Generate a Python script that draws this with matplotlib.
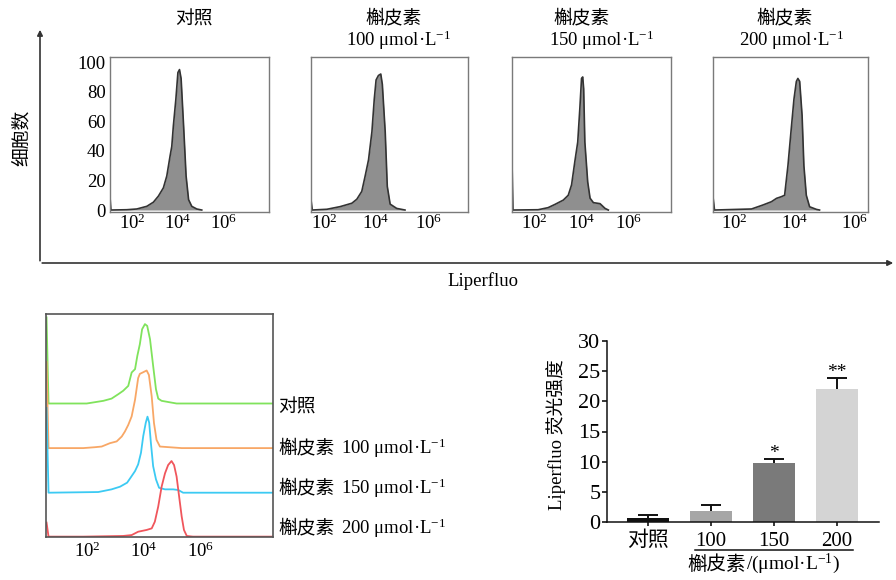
import numpy as np
import matplotlib
matplotlib.use("Agg")
import matplotlib.pyplot as plt
from matplotlib.patches import FancyArrowPatch
from matplotlib.lines import Line2D
from matplotlib.ticker import NullLocator

plt.rcParams['font.family'] = ['Liberation Serif', 'Noto Sans CJK SC']
plt.rcParams['mathtext.fontset'] = 'custom'
plt.rcParams['mathtext.rm'] = 'Liberation Serif'
plt.rcParams['mathtext.it'] = 'Liberation Serif:italic'
plt.rcParams['mathtext.bf'] = 'Liberation Serif:bold'
plt.rcParams['mathtext.default'] = 'rm'

# ---------------- data ----------------
# top histograms: x = log10(Liperfluo fluorescence), y = cell count
top_titles_cn = ["对照", "槲皮素", "槲皮素", "槲皮素"]
top_titles_conc = ["", "100 μmol·L$^{-1}$", "150 μmol·L$^{-1}$", "200 μmol·L$^{-1}$"]

h1_x = [1.00, 1.04, 1.74, 2.18, 2.62, 2.91, 3.13, 3.35, 3.50, 3.65, 3.72, 3.79, 3.90, 3.99, 4.06, 4.13, 4.24, 4.35, 4.46, 4.60, 4.82, 5.04]
h1_y = [9, 0, 0.2, 0.7, 2.5, 5.3, 9.4, 15, 23, 37, 43, 57, 75, 93, 95, 89, 57, 23, 7, 2.5, 0.7, 0]

h2_x = [1.50, 1.55, 2.11, 2.62, 3.07, 3.26, 3.45, 3.58, 3.71, 3.84, 3.93, 4.00, 4.09, 4.18, 4.24, 4.35, 4.43, 4.54, 4.79, 5.11]
h2_y = [7, 0, 0.5, 2.3, 4.6, 7.3, 12.6, 23, 34, 53, 75, 88, 91, 92, 85, 53, 16, 4, 1.1, 0]

h3_x = [1.07, 1.11, 2.17, 2.59, 2.88, 3.23, 3.44, 3.58, 3.72, 3.84, 3.93, 4.00, 4.05, 4.09, 4.14, 4.26, 4.36, 4.50, 4.78, 4.99, 5.13]
h3_y = [33, 0, 0.2, 1.6, 3.8, 6.7, 10, 17, 33, 46, 69, 89, 90, 82, 46, 19, 8, 5, 4.3, 1.1, 0]

h4_x = [1.28, 1.33, 2.56, 2.94, 3.22, 3.39, 3.55, 3.66, 3.77, 3.88, 3.97, 4.05, 4.10, 4.16, 4.24, 4.30, 4.38, 4.49, 4.72, 4.82]
h4_y = [9, 0, 0.7, 3.4, 5.6, 7.9, 9, 10, 30, 55, 75, 87, 89, 87, 64, 30, 10, 2.2, 0.4, 0]

# overlay histograms (relative counts)
ov_labels_cn = ["对照", "槲皮素", "槲皮素", "槲皮素"]
ov_labels_conc = ["", "100 μmol·L$^{-1}$", "150 μmol·L$^{-1}$", "200 μmol·L$^{-1}$"]

g_x = [0.55, 0.62, 1.97, 2.56, 2.85, 3.09, 3.26, 3.44, 3.56, 3.68, 3.76, 3.85, 3.93, 4.03, 4.11, 4.21, 4.32, 4.42, 4.50, 4.62, 4.97, 5.15, 8.57]
g_y = [38.6, 0, 0, 1.2, 2.2, 4.2, 5.7, 7.9, 13.9, 15.4, 21.3, 26.6, 33.3, 35.6, 34.8, 28.8, 16.9, 6.4, 2.2, 1.2, 0.4, 0, 0]

o_x = [0.55, 0.62, 1.85, 2.26, 2.50, 2.79, 3.03, 3.21, 3.32, 3.44, 3.56, 3.68, 3.79, 3.85, 3.95, 4.09, 4.17, 4.27, 4.35, 4.44, 4.56, 5.33, 8.57]
o_y = [38.6, 0, 0, 0.4, 0.7, 2.2, 3.0, 5.2, 7.4, 10.4, 14.2, 21.7, 31.4, 33.3, 33.9, 34.8, 32.8, 23.1, 11.2, 3.7, 0.7, 0, 0]

c_x = [0.55, 0.62, 2.38, 2.85, 3.15, 3.40, 3.52, 3.68, 3.79, 3.89, 3.97, 4.06, 4.12, 4.18, 4.24, 4.32, 4.42, 4.53, 4.74, 5.03, 5.21, 5.38, 8.57]
c_y = [38, 0, 0.3, 1.5, 2.7, 4.5, 6.7, 9.7, 12.7, 17.9, 25.4, 31.4, 34.1, 31.4, 22.4, 11.9, 6.0, 2.2, 1.5, 1.5, 1.2, 0, 0]

r_x = [0.55, 0.62, 1.85, 3.26, 3.56, 3.79, 4.09, 4.27, 4.38, 4.50, 4.62, 4.74, 4.85, 4.97, 5.06, 5.15, 5.24, 5.33, 5.41, 5.51, 5.73, 8.57]
r_y = [6.3, 0, 0, 0.3, 0.7, 2.2, 3.0, 3.7, 6.7, 13.5, 22.4, 28.4, 32.1, 33.9, 32.1, 26.9, 17.9, 9.0, 3.0, 0.3, 0, 0]

# bar chart
bar_groups = ["对照", "100", "150", "200"]
bar_means = [0.7, 1.9, 9.8, 22.0]
bar_errs = [0.5, 0.85, 0.6, 1.8]
bar_sig = ["", "", "*", "**"]

tick_vals = [1e2, 1e4, 1e6]
tick_labels = ["$10^2$", "$10^4$", "$10^6$"]

# ---------------- layout helpers ----------------
W, H = 896, 580
fig = plt.figure(figsize=(W / 100, H / 100), dpi=100)


def box(l, t, r, b):
    return [l / W, 1 - b / H, (r - l) / W, (b - t) / H]


def fp(x, y):
    return (x / W, 1 - y / H)


FS = 13.5
CJK = ['Noto Sans CJK SC']
LAT = 'Liberation Serif'

# ---------------- top row ----------------
top_data = [(h1_x, h1_y), (h2_x, h2_y), (h3_x, h3_y), (h4_x, h4_y)]
top_boxes = [(110, 57, 269, 211.5), (311, 57, 468, 211.5), (512, 57, 671, 211.5), (713, 57, 868, 211.5)]
top_lims = [(1.0, 8.0), (1.5, 7.53), (1.07, 7.77), (1.28, 6.43)]
title_cn_pos = [(194, 19), (394, 18), (582, 18), (785, 18)]
title_conc_pos = [None, (399, 40), (602, 40), (792, 40)]

for i, ((hx, hy), bx, lim) in enumerate(zip(top_data, top_boxes, top_lims)):
    ax = fig.add_axes(box(*bx))
    xs = 10 ** np.asarray(hx)
    ax.fill_between(xs, hy, 0, color='#8f8f8f', lw=0)
    ax.plot(xs, hy, color='#333333', lw=1.2)
    ax.set_xscale('log')
    ax.set_xlim(10 ** lim[0], 10 ** lim[1])
    ax.set_ylim(-1, 103.5)
    ax.set_xticks(tick_vals)
    ax.set_xticklabels(tick_labels)
    ax.xaxis.set_minor_locator(NullLocator())
    if i == 0:
        ax.set_yticks([0, 20, 40, 60, 80, 100])
    else:
        ax.set_yticks([])
    ax.tick_params(length=0, labelsize=FS)
    ax.tick_params(axis='x', pad=1.5)
    ax.tick_params(axis='y', pad=3)
    for s in ax.spines.values():
        s.set_color('#7a7a7a')
        s.set_linewidth(1.0)
    tx, ty = title_cn_pos[i]
    fig.text(*fp(tx, ty), top_titles_cn[i], family=CJK, fontsize=FS, ha='center', va='center')
    if title_conc_pos[i] is not None:
        cx, cy = title_conc_pos[i]
        fig.text(*fp(cx, cy), top_titles_conc[i], family=LAT, fontsize=FS, ha='center', va='center')

# big frame arrows
fig.add_artist(FancyArrowPatch(fp(40, 263.5), fp(40, 27), transform=fig.transFigure,
                               arrowstyle='-|>', mutation_scale=8, lw=1.2, color='#333333'))
fig.add_artist(FancyArrowPatch(fp(39.4, 263), fp(896, 263), transform=fig.transFigure,
                               arrowstyle='-|>', mutation_scale=8, lw=1.2, color='#333333'))
fig.text(*fp(21, 138), "细胞数", family=CJK, fontsize=FS, rotation=90, ha='center', va='center')
fig.text(*fp(482.5, 281), "Liperfluo", family=LAT, fontsize=FS, ha='center', va='center')

# ---------------- overlay panel ----------------
ax2 = fig.add_axes(box(45.7, 314.3, 273.3, 537.3))
ov_data = [(g_x, g_y), (o_x, o_y), (c_x, c_y), (r_x, r_y)]
ov_colors = ['#80e35c', '#f8a766', '#3ccaf3', '#f0565c']
ov_offsets = [60, 40, 20, 0.3]
for (ox, oy), col, off in zip(ov_data, ov_colors, ov_offsets):
    ax2.plot(10 ** np.asarray(ox), np.asarray(oy) + off, color=col, lw=1.3)
ax2.set_xscale('log')
ax2.set_xlim(10 ** 0.52, 10 ** 8.57)
ax2.set_ylim(0, 100)
ax2.set_xticks(tick_vals)
ax2.set_xticklabels(tick_labels)
ax2.xaxis.set_minor_locator(NullLocator())
ax2.set_yticks([])
ax2.tick_params(length=0, labelsize=FS, pad=3)
for s in ax2.spines.values():
    s.set_color('#555555')
    s.set_linewidth(1.2)

ov_text_y = [407.5, 448, 488, 528]
for cn, conc, y in zip(ov_labels_cn, ov_labels_conc, ov_text_y):
    fig.text(*fp(278, y), cn, family=CJK, fontsize=FS, ha='left', va='center')
    if conc:
        fig.text(*fp(341, y), conc, family=LAT, fontsize=FS, ha='left', va='center')

# ---------------- bar chart ----------------
ax3 = fig.add_axes(box(606.7, 341, 879.3, 522))
xpos = np.arange(len(bar_groups))
bar_colors = ['#111111', '#a6a6a6', '#7a7a7a', '#d4d4d4']
ax3.bar(xpos, bar_means, width=0.66, color=bar_colors, zorder=2)
ax3.errorbar(xpos, bar_means, yerr=bar_errs, fmt='none',
             ecolor='#111111', elinewidth=1.4, capsize=7.5, capthick=1.4, zorder=1)
for xi, m, e, s in zip(xpos, bar_means, bar_errs, bar_sig):
    if s:
        ax3.annotate(s, (xi, m + e), xytext=(0, -2), textcoords='offset points',
                     ha='center', va='bottom', fontsize=14, family=LAT)
ax3.set_xlim(-0.656, 3.67)
ax3.set_ylim(0, 30)
ax3.set_yticks(np.arange(0, 31, 5))
ax3.set_xticks(xpos)
ax3.set_xticklabels(bar_groups)
ax3.spines['top'].set_visible(False)
ax3.spines['right'].set_visible(False)
for s in ('left', 'bottom'):
    ax3.spines[s].set_linewidth(1.1)
    ax3.spines[s].set_color('#111111')
    ax3.spines[s].set_zorder(3)
ax3.tick_params(axis='y', length=3.5, width=1.1, labelsize=16, pad=1)
ax3.tick_params(axis='x', length=3, width=1.1, labelsize=15, pad=4)

fig.text(*fp(556, 435), "Liperfluo 荧光强度", fontsize=FS, rotation=90, ha='center', va='center')
fig.add_artist(Line2D([695 / W, 853 / W], [1 - 550 / H, 1 - 550 / H], transform=fig.transFigure,
                      color='#111111', lw=1.1))
fig.text(*fp(746, 564), "槲皮素", family=CJK, fontsize=14, ha='right', va='center')
fig.text(*fp(746, 564), "/(μmol·L$^{-1}$)", family=LAT, fontsize=14, ha='left', va='center')

fig.savefig('out.png', dpi=100)
